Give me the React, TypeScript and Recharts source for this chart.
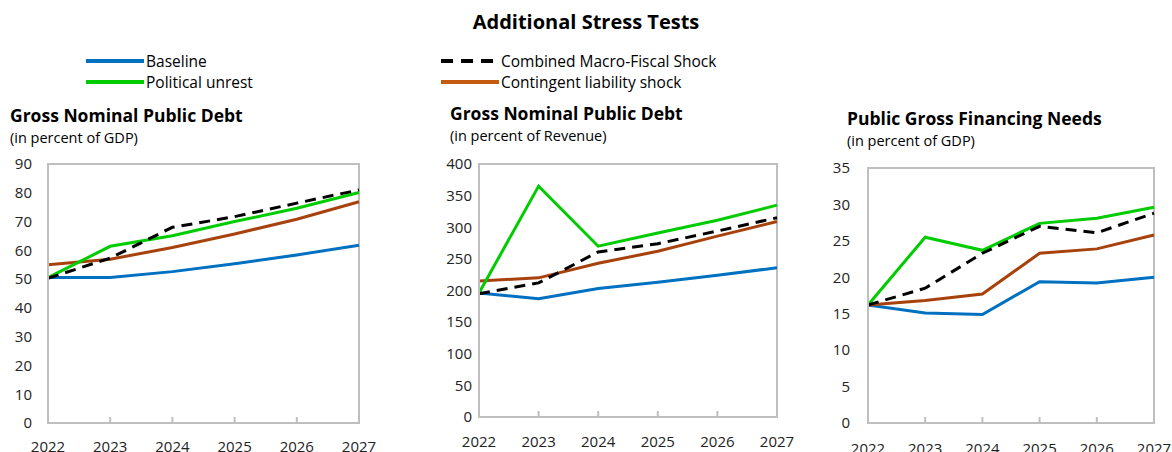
import React from 'react';
import { LineChart, Line, XAxis, YAxis, ReferenceArea } from 'recharts';

const years = ['2022', '2023', '2024', '2025', '2026', '2027'];

// Gross nominal public debt, % of GDP
const debtGdpBaseline = [50.6, 50.6, 52.6, 55.3, 58.4, 61.8];
const debtGdpUnrest = [50.5, 61.4, 65.1, 70.0, 74.6, 80.1];
const debtGdpCombined = [50.3, 57.3, 68.0, 71.7, 76.4, 81.0];
const debtGdpContingent = [55.0, 56.9, 61.0, 65.7, 70.8, 76.9];
const debtGdpTicks = [0, 10, 20, 30, 40, 50, 60, 70, 80, 90];

// Gross nominal public debt, % of revenue
const debtRevBaseline = [196, 187, 203, 213, 224, 236];
const debtRevUnrest = [196, 365, 270, 291, 311, 335];
const debtRevCombined = [195, 212, 261, 274, 294, 315];
const debtRevContingent = [215, 220, 243, 262, 286, 309];
const debtRevTicks = [0, 50, 100, 150, 200, 250, 300, 350, 400];

// Public gross financing needs, % of GDP
const gfnBaseline = [16.2, 15.1, 14.9, 19.4, 19.2, 20.0];
const gfnUnrest = [16.2, 25.5, 23.7, 27.4, 28.1, 29.6];
const gfnCombined = [16.2, 18.5, 23.3, 27.0, 26.1, 28.8];
const gfnContingent = [16.2, 16.8, 17.7, 23.3, 23.9, 25.8];
const gfnTicks = [0, 5, 10, 15, 20, 25, 30, 35];

const BLUE = '#0070C0';
const GREEN = '#00CC00';
const BROWN = '#A8420C';
const LEGEND_BROWN = '#C55A11';
const FONT = '"Open Sans", "Noto Sans", sans-serif';

const toRows = (a: number[], b: number[], c: number[], d: number[]) =>
  years.map((year, i) => ({ year, baseline: a[i], unrest: b[i], combined: c[i], contingent: d[i] }));

interface PanelProps {
  left: number;
  width: number;
  title: string;
  subtitle: string;
  titleLeft: number;
  titleTop: number;
  rows: Array<Record<string, any>>;
  ticks: number[];
  yWidth: number;
  yGap: number;
  marginTop: number;
  marginRight: number;
  xHeight: number;
  xGap: number;
}

const Panel: React.FC<PanelProps> = (p) => {
  const max = p.ticks[p.ticks.length - 1];
  return (
    <>
      <div style={{ position: 'absolute', left: p.titleLeft, top: p.titleTop, fontFamily: FONT, color: '#000', whiteSpace: 'nowrap' }}>
        <div style={{ fontSize: 17.5, fontWeight: 700, lineHeight: '22px' }}>{p.title}</div>
        <div style={{ fontSize: 14.5, lineHeight: '20px', marginTop: 2 }}>{p.subtitle}</div>
      </div>
      <div style={{ position: 'absolute', left: p.left, top: 150 }}>
        <LineChart
          width={p.width}
          height={302}
          data={p.rows}
          margin={{ top: p.marginTop, right: p.marginRight, left: 0, bottom: 0 }}
        >
          <XAxis
            dataKey="year"
            padding={{ left: 0, right: 0 }}
            height={p.xHeight}
            axisLine={{ stroke: '#BFBFBF', strokeWidth: 2 }}
            tickLine={{ stroke: '#BFBFBF', strokeWidth: 2 }}
            tickSize={-6}
            tickMargin={p.xGap}
            tick={{ fill: '#222', fontSize: 15, fontFamily: FONT }}
            interval={0}
          />
          <YAxis
            domain={[0, max]}
            ticks={p.ticks}
            width={p.yWidth}
            axisLine={{ stroke: '#BFBFBF', strokeWidth: 2 }}
            tickLine={false}
            tickSize={0}
            tickMargin={p.yGap}
            tick={{ fill: '#222', fontSize: 15, fontFamily: FONT }}
            interval={0}
          />
          <ReferenceArea
            x1="2022"
            x2="2027"
            y1={0}
            y2={max}
            fill="none"
            stroke="#BFBFBF"
            strokeWidth={2}
            ifOverflow="visible"
          />
          <Line dataKey="baseline" stroke={BLUE} strokeWidth={3} dot={false} isAnimationActive={false} />
          <Line dataKey="contingent" stroke={BROWN} strokeWidth={3} dot={false} isAnimationActive={false} />
          <Line dataKey="unrest" stroke={GREEN} strokeWidth={3} dot={false} isAnimationActive={false} />
          <Line
            dataKey="combined"
            stroke="#000"
            strokeWidth={3}
            strokeDasharray="11 7"
            dot={false}
            isAnimationActive={false}
          />
        </LineChart>
      </div>
    </>
  );
};

const LegendItem = ({ x, y, color, dashed, label }: { x: number; y: number; color: string; dashed?: boolean; label: string }) => (
  <div style={{ position: 'absolute', left: x, top: y - 9, height: 18, lineHeight: '18px', display: 'flex', alignItems: 'center', fontFamily: FONT, fontSize: 15.5, color: '#000', whiteSpace: 'nowrap' }}>
    <svg width={58} height={6} style={{ marginRight: 2 }}>
      <line x1={0} y1={3} x2={58} y2={3} stroke={color} strokeWidth={4} strokeDasharray={dashed ? '12 8' : undefined} />
    </svg>
    <span>{label}</span>
  </div>
);

export default function App() {
  return (
    <div style={{ position: 'absolute', left: 0, top: 0, width: 1172, height: 452, background: '#fff', overflow: 'hidden' }}>
      <div style={{ position: 'absolute', left: 0, width: 1172, top: 8, textAlign: 'center', fontFamily: FONT, fontWeight: 700, fontSize: 20 }}>
        Additional Stress Tests
      </div>
      <LegendItem x={86} y={61} color={BLUE} label="Baseline" />
      <LegendItem x={86} y={82} color={GREEN} label="Political unrest" />
      <LegendItem x={441} y={61} color="#000" dashed label="Combined Macro-Fiscal Shock" />
      <LegendItem x={441} y={82} color={LEGEND_BROWN} label="Contingent liability shock" />

      <Panel
        left={0}
        width={380}
        title="Gross Nominal Public Debt"
        subtitle="(in percent of GDP)"
        titleLeft={10}
        titleTop={104}
        rows={toRows(debtGdpBaseline, debtGdpUnrest, debtGdpCombined, debtGdpContingent)}
        ticks={debtGdpTicks}
        yWidth={48}
        yGap={16}
        marginTop={14}
        marginRight={21}
        xHeight={29}
        xGap={24}
      />
      <Panel
        left={420}
        width={380}
        title="Gross Nominal Public Debt"
        subtitle="(in percent of Revenue)"
        titleLeft={450}
        titleTop={102}
        rows={toRows(debtRevBaseline, debtRevUnrest, debtRevCombined, debtRevContingent)}
        ticks={debtRevTicks}
        yWidth={59}
        yGap={7}
        marginTop={14}
        marginRight={23}
        xHeight={35}
        xGap={25}
      />
      <Panel
        left={800}
        width={372}
        title="Public Gross Financing Needs"
        subtitle="(in percent of GDP)"
        titleLeft={847}
        titleTop={107}
        rows={toRows(gfnBaseline, gfnUnrest, gfnCombined, gfnContingent)}
        ticks={gfnTicks}
        yWidth={68}
        yGap={18}
        marginTop={18}
        marginRight={18}
        xHeight={29}
        xGap={26}
      />
    </div>
  );
}
